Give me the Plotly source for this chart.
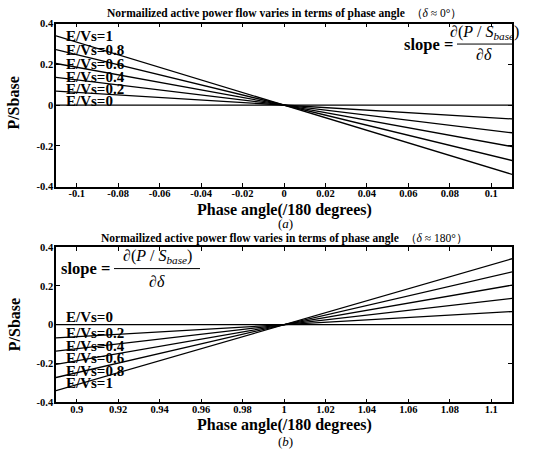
import plotly.graph_objects as go

# ---- data ----
ratios = [0, 0.2, 0.4, 0.6, 0.8, 1]
ratio_labels = ["E/Vs=0", "E/Vs=0.2", "E/Vs=0.4", "E/Vs=0.6", "E/Vs=0.8", "E/Vs=1"]

x_a = [-0.11, 0.11]
p_a_left = [0.0, 0.068, 0.136, 0.204, 0.272, 0.340]
p_a_right = [0.0, -0.068, -0.136, -0.204, -0.272, -0.340]

x_b = [0.89, 1.11]
p_b_left = [0.0, -0.068, -0.136, -0.204, -0.272, -0.340]
p_b_right = [0.0, 0.068, 0.136, 0.204, 0.272, 0.340]

label_a_y = [0.018, 0.077, 0.140, 0.202, 0.268, 0.337]
label_b_y = [0.040, -0.044, -0.110, -0.174, -0.236, -0.300]

xt_a = [-0.1, -0.08, -0.06, -0.04, -0.02, 0, 0.02, 0.04, 0.06, 0.08, 0.1]
xt_a_text = ["-0.1", "-0.08", "-0.06", "-0.04", "-0.02", "0", "0.02", "0.04", "0.06", "0.08", "0.1"]
xt_b = [0.9, 0.92, 0.94, 0.96, 0.98, 1, 1.02, 1.04, 1.06, 1.08, 1.1]
xt_b_text = ["0.9", "0.92", "0.94", "0.96", "0.98", "1", "1.02", "1.04", "1.06", "1.08", "1.1"]
yt = [-0.4, -0.2, 0, 0.2, 0.4]
yt_text = ["-0.4", "-0.2", "0", "0.2", "0.4"]

W, H = 545, 463
FONT = "Liberation Serif, Times New Roman, Times, serif"

def px(x):
    return x / W

def py(y):
    return 1 - y / H

fig = go.Figure()
for i, r in enumerate(ratios):
    fig.add_trace(go.Scatter(x=x_a, y=[p_a_left[i], p_a_right[i]], mode="lines",
                             line=dict(color="black", width=1.3), xaxis="x", yaxis="y",
                             showlegend=False, hoverinfo="skip"))
    fig.add_trace(go.Scatter(x=x_b, y=[p_b_left[i], p_b_right[i]], mode="lines",
                             line=dict(color="black", width=1.3), xaxis="x2", yaxis="y2",
                             showlegend=False, hoverinfo="skip"))

axis_common = dict(showgrid=False, zeroline=False, showline=True, linecolor="black",
                   linewidth=1.5, mirror="ticks", ticks="inside", ticklen=4,
                   tickcolor="black", tickwidth=1,
                   tickfont=dict(family=FONT, size=10.5, color="black", weight="bold"))

x_dom = [px(56), px(512)]
fig.update_layout(
    width=W, height=H, margin=dict(l=0, r=0, t=0, b=0),
    paper_bgcolor="white", plot_bgcolor="white",
    font=dict(family=FONT, color="black"),
    xaxis=dict(domain=x_dom, range=[-0.11, 0.11], tickvals=xt_a, ticktext=xt_a_text,
               anchor="y", ticklabelstandoff=-4, **axis_common),
    yaxis=dict(domain=[py(186), py(19)], range=[-0.4, 0.4], tickvals=yt, ticktext=yt_text,
               anchor="x", ticklabelstandoff=-1, **axis_common),
    xaxis2=dict(domain=x_dom, range=[0.89, 1.11], tickvals=xt_b, ticktext=xt_b_text,
                anchor="y2", ticklabelstandoff=-4, **axis_common),
    yaxis2=dict(domain=[py(407), py(248)], range=[-0.4, 0.4], tickvals=yt, ticktext=yt_text,
                anchor="x2", ticklabelstandoff=-1, **axis_common),
)

ann = []
lab_font = dict(family=FONT, size=15, color="black", weight="bold")
for i, t in enumerate(ratio_labels):
    ann.append(dict(x=-0.106, y=label_a_y[i], xref="x", yref="y", text=t, showarrow=False,
                    xanchor="left", yanchor="middle", font=lab_font))
    ann.append(dict(x=0.894, y=label_b_y[i], xref="x2", yref="y2", text=t, showarrow=False,
                    xanchor="left", yanchor="middle", font=lab_font))

def text(x, y, t, size, bold=False, xanchor="center", angle=0):
    f = dict(family=FONT, size=size, color="black")
    if bold:
        f["weight"] = "bold"
    ann.append(dict(x=px(x), y=py(y), xref="paper", yref="paper", text=t, showarrow=False,
                    xanchor=xanchor, yanchor="middle", font=f, textangle=angle))

title_a = "<b>Normailized active power flow varies in terms of phase angle</b>  （<i>δ</i> ≈ 0°）"
title_b = "<b>Normailized active power flow varies in terms of phase angle</b>  （<i>δ</i> ≈ 180°）"
text(284, 9, title_a, 11.5)
text(284, 239, title_b, 11.5)
text(284, 210, "Phase angle(/180 degrees)", 16, bold=True)
text(284, 430, "Phase angle(/180 degrees)", 16, bold=True)
text(285, 224, "(<i>a</i>)", 13)
text(285, 447, "(<i>b</i>)", 13)
text(14, 101, "P/Sbase", 16, bold=True, angle=-90)
text(14, 328, "P/Sbase", 16, bold=True, angle=-90)

num = "∂(<i>P</i> / <i>S<sub>base</sub></i>)"
den = "∂<i>δ</i>"
# top formula
text(455, 40, "slope =", 16.5, bold=True, xanchor="right")
text(484, 28, num, 16)
text(484, 51, den, 16)
# bottom formula
text(112, 270, "slope =", 16.5, bold=True, xanchor="right")
text(157, 258, num, 16)
text(157, 283, den, 16)

shapes = [
    dict(type="line", xref="paper", yref="paper", x0=px(457), x1=px(512), y0=py(40), y1=py(40),
         line=dict(color="black", width=1)),
    dict(type="line", xref="paper", yref="paper", x0=px(114), x1=px(200), y0=py(270), y1=py(270),
         line=dict(color="black", width=1)),
]
fig.update_layout(annotations=ann, shapes=shapes)
fig.write_html("out.html", config={"displayModeBar": False},
               post_script="document.body.style.margin='0';document.body.style.padding='0';")
